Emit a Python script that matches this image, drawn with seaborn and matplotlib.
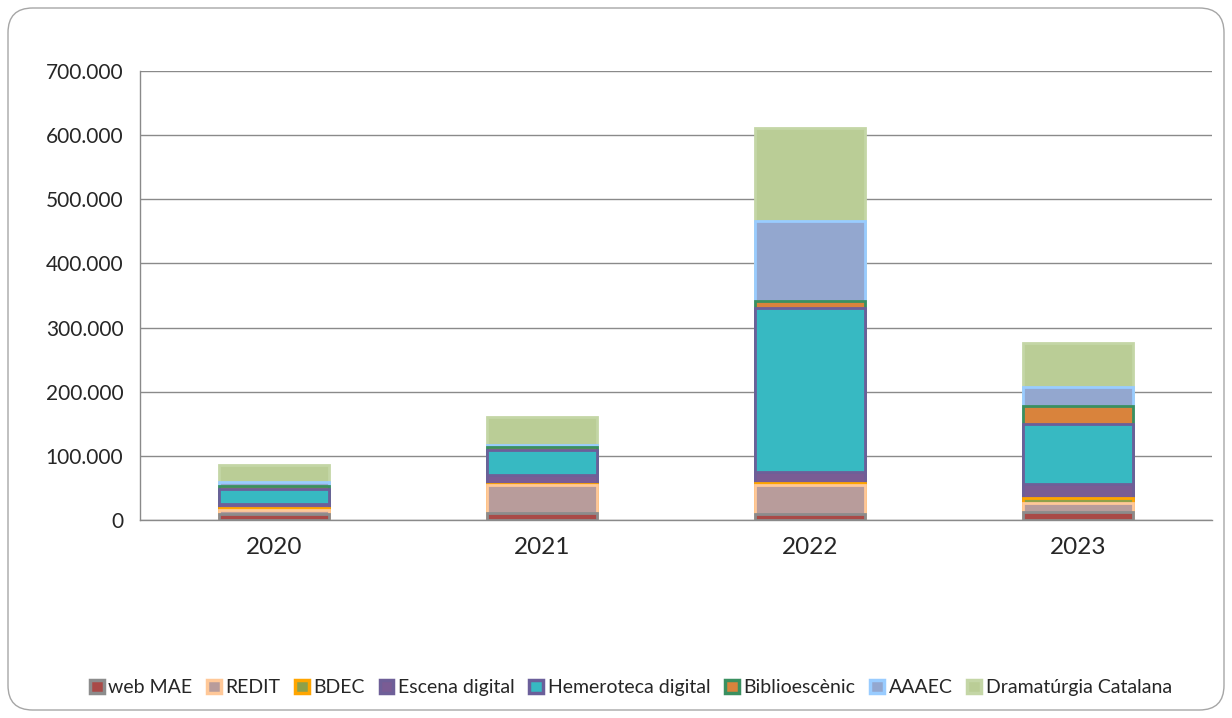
import matplotlib
matplotlib.use("Agg")
import matplotlib.pyplot as plt
import seaborn as sns
import numpy as np
from matplotlib.patches import Patch, FancyBboxPatch
from matplotlib.ticker import FuncFormatter, FixedLocator

years = ["2020", "2021", "2022", "2023"]
series = ["web MAE", "REDIT", "BDEC", "Escena digital", "Hemeroteca digital",
          "Biblioescènic", "AAAEC", "Dramatúrgia Catalana"]
web_mae = [9500, 11000, 10000, 13000]
redit = [6000, 43000, 45000, 14000]
bdec = [3000, 1500, 3000, 8000]
escena_digital = [7000, 15000, 17000, 21000]
hemeroteca_digital = [23500, 38000, 255000, 94000]
biblioescenic = [4500, 5000, 12000, 27000]
aaaec = [5000, 4000, 124500, 30000]
dramaturgia_catalana = [27500, 43000, 145000, 69000]

values = [web_mae, redit, bdec, escena_digital, hemeroteca_digital,
          biblioescenic, aaaec, dramaturgia_catalana]
fills = ["#A94A47", "#B89C9B", "#8EA04A", "#7A5C94", "#37B9C2",
         "#D9833C", "#93A7CF", "#BACD96"]
edges = ["#8C8C8C", "#FFC898", "#FFA500", "#6E5F98", "#6B5F9A",
         "#3A9060", "#99CCFF", "#C4D6A6"]

sns.set_style("white")
plt.rcParams["font.family"] = ["Lato", "DejaVu Sans"]

fig = plt.figure(figsize=(12.32, 7.18), dpi=100)
ax = fig.add_axes([0.1136, 0.2758, 0.8702, 0.6253])

cum = np.cumsum(np.array(values), axis=0)
# draw from the top of the stack downwards so lower segments overlay
for i in range(len(series) - 1, -1, -1):
    sns.barplot(x=years, y=cum[i], color=fills[i], edgecolor=edges[i],
                linewidth=2, width=0.41, saturation=1, ax=ax, zorder=3)

ax.set_ylim(0, 700000)
ax.set_xlim(-0.5, 3.5)
ax.set_yticks(np.arange(0, 700001, 100000))
ax.yaxis.set_major_formatter(FuncFormatter(lambda v, p: f"{v:,.0f}".replace(",", ".")))
ax.grid(axis="y", color="#8A8A8A", linewidth=1, zorder=0)
ax.set_axisbelow(True)
for s in ["top", "right"]:
    ax.spines[s].set_visible(False)
for s in ["left", "bottom"]:
    ax.spines[s].set_color("#8A8A8A")
    ax.spines[s].set_linewidth(1)
ax.tick_params(axis="y", length=6, color="#8A8A8A", labelsize=15, pad=6)
ax.tick_params(axis="x", which="major", length=0, labelsize=17.5, pad=12)
ax.xaxis.set_minor_locator(FixedLocator([-0.5, 0.5, 1.5, 2.5, 3.5]))
ax.tick_params(axis="x", which="minor", length=5, color="#8A8A8A")
ax.set_xlabel("")
ax.set_ylabel("")

handles = [Patch(facecolor=f, edgecolor=e, linewidth=2.5, label=s)
           for s, f, e in zip(series, fills, edges)]
fig.legend(handles=handles, loc="center", bbox_to_anchor=(0.512, 0.042), ncol=8,
           frameon=False, fontsize=14, handlelength=0.7, handleheight=0.7,
           handletextpad=0.25, columnspacing=0.75)

border = FancyBboxPatch((8 / 1232, 8 / 718), 1216 / 1232, 702 / 718,
                        boxstyle="round,pad=0,rounding_size=0.02",
                        transform=fig.transFigure, facecolor="none",
                        edgecolor="#A6A6A6", linewidth=1, mutation_aspect=1232 / 718)
fig.patches.append(border)

fig.savefig("out.png", dpi=100)
